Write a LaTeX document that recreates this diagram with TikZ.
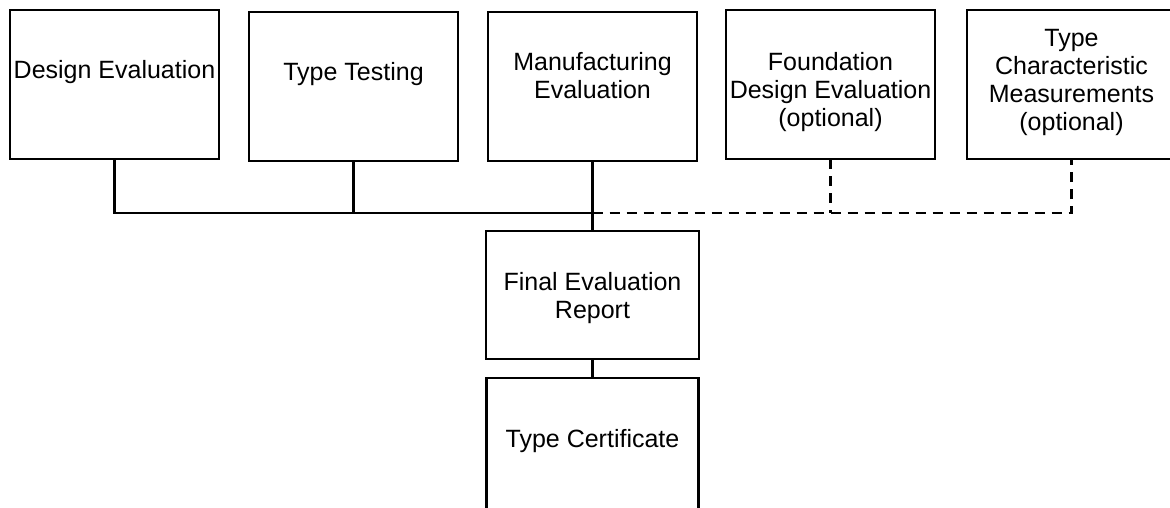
\documentclass[tikz,border=0pt]{standalone}
\usepackage{fontspec}
\setmainfont{Liberation Sans}
\usetikzlibrary{positioning}
\tikzset{box/.style={draw,line width=2.2pt,minimum width=209pt,minimum height=149pt,inner sep=0pt,outer sep=0pt},
  lbl/.style={align=center,anchor=base,inner sep=0pt,font=\fontsize{25}{28}\selectfont},
  link/.style={line width=2.2pt},
  optlink/.style={line width=2.2pt,dash pattern=on 10pt off 7pt}}

\begin{document}
\begin{tikzpicture}[x=1pt,y=-1pt,node distance=30pt]
    \useasboundingbox (0,0) rectangle (1170,508);
    \clip (0,0) rectangle (1170,508);
    % top row
    \node[box] (design) at (114.5,84.5) {};
    \node[box,right=of design,yshift=-2pt] (testing) {};
    \node[box,right=of testing] (manuf) {};
    \node[box,right=29pt of manuf,yshift=2pt] (found) {};
    \node[box,right=32pt of found] (chars) {};
    % text sits on its last line
    \node[lbl] (designtxt) at ([yshift=-69pt]design.north) {Design Evaluation};
    \node[lbl] (testingtxt) at ([yshift=-69pt]testing.north) {Type Testing};
    \node[lbl] (manuftxt) at ([yshift=-87pt]manuf.north) {Manufacturing\\Evaluation};
    \node[lbl] (foundtxt) at ([yshift=-117pt]found.north) {Foundation\\Design Evaluation\\(optional)};
    \node[lbl] (charstxt) at ([yshift=-121pt]chars.north) {Type\\Characteristic\\Measurements\\(optional)};
    % report and certificate
    \node[box,minimum width=213pt,minimum height=128pt] (final) at (592.5,295) {};
    \node[box,minimum width=212pt,minimum height=140pt,below=19pt of final] (cert) {};
    \node[lbl] (finaltxt) at ([yshift=-87pt]final.north) {Final Evaluation\\Report};
    \node[lbl] (certtxt) at ([yshift=-69pt]cert.north) {Type Certificate};
    % connectors
    \coordinate (join) at ([yshift=-52pt]manuf.south);
    \draw[link] (design.south) |- (join);
    \draw[link] (testing.south) -- (testing.south |- join);
    \draw[link] (manuf.south) -- (final.north);
    \draw[link] (final.south) -- (cert.north);
    \draw[optlink] (join) -| (chars.south);
    \draw[optlink] (found.south) -- (found.south |- join);
\end{tikzpicture}
\end{document}
